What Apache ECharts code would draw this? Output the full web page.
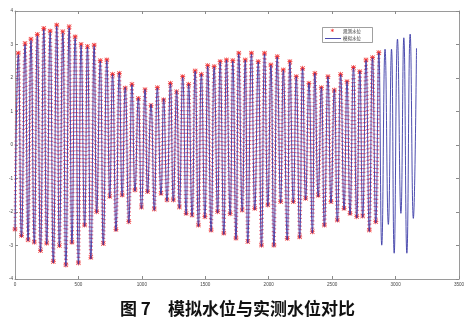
<!DOCTYPE html>
<html>
<head>
<meta charset="utf-8">
<script src="https://cdn.jsdelivr.net/npm/echarts@6/dist/echarts.min.js"></script>
<style>html,body{margin:0;padding:0;background:#fff;}#c{width:476px;height:326px;}</style>
</head>
<body>
<div id="c"></div>
<script>
// x positions (time steps) of high and low waters
const peakX = [26, 79, 126, 176, 227, 277, 329, 377, 427, 474, 521, 571, 624, 672, 724, 769, 822, 869, 922, 972, 1025, 1072, 1122, 1172, 1225, 1274, 1322, 1369, 1420, 1469, 1519, 1570, 1617, 1667, 1717, 1764, 1815, 1864, 1917, 1967, 2017, 2067, 2115, 2167, 2217, 2267, 2317, 2364, 2415, 2467, 2517, 2567, 2617, 2668, 2718, 2767, 2818, 2868, 2917, 2968, 3015, 3065, 3115, 3165];
const troughX = [0, 51, 103, 152, 201, 250, 302, 350, 401, 449, 500, 549, 598, 644, 696, 747, 796, 845, 897, 946, 997, 1045, 1098, 1151, 1198, 1248, 1296, 1349, 1396, 1446, 1497, 1546, 1597, 1646, 1696, 1742, 1791, 1835, 1890, 1943, 1993, 2041, 2094, 2146, 2194, 2244, 2291, 2344, 2390, 2439, 2491, 2541, 2594, 2641, 2694, 2741, 2793, 2844, 2891, 2943, 2989, 3042, 3089, 3140];

// observed water level (观测水位): highs and lows
const obsPeak = [2.74, 3.03, 3.16, 3.30, 3.48, 3.40, 3.58, 3.38, 3.53, 3.23,
  3.00, 2.94, 2.98, 2.52, 2.54, 2.11, 2.14, 1.70, 1.81, 1.39,
  1.65, 1.18, 1.71, 1.35, 1.84, 1.59, 2.04, 1.81, 2.21, 2.11,
  2.37, 2.34, 2.49, 2.54, 2.52, 2.74, 2.54, 2.74, 2.49, 2.74,
  2.39, 2.64, 2.24, 2.49, 2.04, 2.29, 1.84, 2.14, 1.71, 2.04,
  1.64, 2.11, 1.89, 2.31, 2.19, 2.54, 2.61, 2.76];
const obsTrough = [-2.51, -2.70, -2.83, -2.90, -3.15, -2.93, -3.48, -3.00, -3.58, -2.90,
  -3.52, -2.39, -3.35, -1.99, -2.94, -1.53, -2.52, -1.49, -2.29, -1.34,
  -1.85, -1.39, -1.91, -1.44, -1.64, -1.64, -1.85, -2.04, -2.09, -2.39,
  -2.14, -2.54, -1.99, -2.63, -2.05, -2.78, -1.94, -2.88, -1.89, -2.99,
  -1.79, -2.99, -1.69, -2.79, -1.69, -2.74, -1.59, -2.59, -1.50, -2.39,
  -1.69, -2.24, -1.89, -2.04, -2.14, -2.12, -2.54, -2.29];

// simulated water level (模拟水位): highs and lows
const simPeak = [2.70, 3.00, 3.12, 3.26, 3.45, 3.37, 3.55, 3.35, 3.50, 3.20,
  2.98, 2.92, 2.96, 2.50, 2.52, 2.10, 2.15, 1.72, 1.80, 1.40,
  1.66, 1.22, 1.70, 1.38, 1.83, 1.62, 2.02, 1.82, 2.20, 2.12,
  2.35, 2.33, 2.48, 2.53, 2.50, 2.72, 2.53, 2.72, 2.48, 2.72,
  2.38, 2.62, 2.23, 2.47, 2.04, 2.28, 1.85, 2.14, 1.72, 2.04,
  1.66, 2.10, 1.90, 2.30, 2.20, 2.52, 2.60, 2.75, 2.86, 2.86,
  3.16, 3.20, 3.31, 2.89];
const simTrough = [-2.55, -2.74, -2.86, -2.94, -3.18, -2.96, -3.52, -3.03, -3.62, -2.94,
  -3.56, -2.43, -3.40, -2.03, -2.98, -1.57, -2.57, -1.53, -2.33, -1.38,
  -1.90, -1.43, -1.95, -1.48, -1.68, -1.68, -1.89, -2.08, -2.13, -2.43,
  -2.18, -2.58, -2.03, -2.67, -2.09, -2.82, -1.98, -2.92, -1.93, -3.03,
  -1.83, -3.03, -1.73, -2.83, -1.73, -2.78, -1.63, -2.63, -1.54, -2.43,
  -1.73, -2.28, -1.93, -2.08, -2.18, -2.16, -2.58, -2.33, -2.99, -2.37,
  -3.23, -2.04, -3.23, -2.19];

const xTicks = [0, 500, 1000, 1500, 2000, 2500, 3000, 3500];
const yTicks = [-4, -3, -2, -1, 0, 1, 2, 3, 4];
const seriesNames = ['观测水位', '模拟水位'];
const titleNo = '图 7';
const titleText = '模拟水位与实测水位对比';

function build(troughs, peaks) {
  const out = [];
  for (let i = 0; i < peaks.length; i++) {
    out.push([troughX[i], troughs[i]]);
    out.push([peakX[i], peaks[i]]);
  }
  return out;
}
const obsData = build(obsTrough, obsPeak);
const simData = build(simTrough, simPeak);

const star = 'path://M4.3,0H5.7V10H4.3Z M0,4.3H10V5.7H0Z M1.2,0.2L9.8,8.8L8.8,9.8L0.2,1.2Z M8.8,0.2L9.8,1.2L1.2,9.8L0.2,8.8Z';

const chart = echarts.init(document.getElementById('c'), null, {renderer: 'canvas'});
const axisLine = {show: true, onZero: false, lineStyle: {color: '#9a9a9a', width: 1}};
const axisTick = {show: true, inside: true, length: 3, lineStyle: {color: '#8a8a8a', width: 1}};
const lbl = {fontSize: 4.6, color: '#444', fontFamily: 'Liberation Sans', formatter: function (v) { return String(v); }};
chart.setOption({
  animation: false,
  backgroundColor: '#fff',
  grid: {left: 15, right: 17, top: 11, bottom: 47},
  xAxis: [
    {type: 'value', min: xTicks[0], max: xTicks[xTicks.length - 1], interval: 500, position: 'bottom',
     axisLine: axisLine, axisTick: axisTick, splitLine: {show: false},
     axisLabel: Object.assign({margin: 3}, lbl)},
    {type: 'value', min: xTicks[0], max: xTicks[xTicks.length - 1], interval: 500, position: 'top',
     axisLine: axisLine, axisTick: axisTick, splitLine: {show: false}, axisLabel: {show: false}}
  ],
  yAxis: [
    {type: 'value', min: yTicks[0], max: yTicks[yTicks.length - 1], interval: 1, position: 'left',
     axisLine: axisLine, axisTick: axisTick, splitLine: {show: false},
     axisLabel: Object.assign({margin: 2}, lbl)},
    {type: 'value', min: yTicks[0], max: yTicks[yTicks.length - 1], interval: 1, position: 'right',
     axisLine: axisLine, axisTick: axisTick, splitLine: {show: false}, axisLabel: {show: false}}
  ],
  series: [
    {name: seriesNames[0], type: 'line', data: obsData, smooth: 0.5,
     symbol: star, symbolSize: 5, showAllSymbol: true,
     itemStyle: {color: '#f03434'},
     lineStyle: {color: 'rgba(236,70,95,0.75)', width: 3, type: [1.2, 2.6]}, z: 2},
    {name: seriesNames[1], type: 'line', data: simData, smooth: 0.5, symbol: 'none',
     lineStyle: {color: '#3a3aa6', width: 1, opacity: 0.9}, z: 3}
  ],
  graphic: [
    {type: 'rect', z: 100, shape: {x: 322.5, y: 27.5, width: 50, height: 15},
     style: {fill: '#fff', stroke: '#777', lineWidth: 0.7}},
    {type: 'text', z: 101, x: 330.5, y: 28.5, style: {text: '*', fill: '#f03434', fontSize: 7, fontFamily: 'DejaVu Sans', fontWeight: 'bold'}},
    {type: 'text', z: 101, x: 343, y: 29.3, style: {text: seriesNames[0], fill: '#333', fontSize: 4.5, fontFamily: 'Noto Sans CJK SC'}},
    {type: 'line', z: 101, shape: {x1: 325, y1: 38.5, x2: 341, y2: 38.5}, style: {stroke: '#4a4ab0', lineWidth: 1}},
    {type: 'text', z: 101, x: 343, y: 36.3, style: {text: seriesNames[1], fill: '#333', fontSize: 4.5, fontFamily: 'Noto Sans CJK SC'}},
    {type: 'text', z: 101, x: 120, y: 300, style: {text: titleNo, fill: '#111', fontSize: 17, fontWeight: 'bold', fontFamily: 'Noto Sans CJK SC'}},
    {type: 'text', z: 101, x: 168, y: 300, style: {text: titleText, fill: '#111', fontSize: 17, fontWeight: 'bold', fontFamily: 'Noto Sans CJK SC'}}
  ]
});
</script>
</body>
</html>
